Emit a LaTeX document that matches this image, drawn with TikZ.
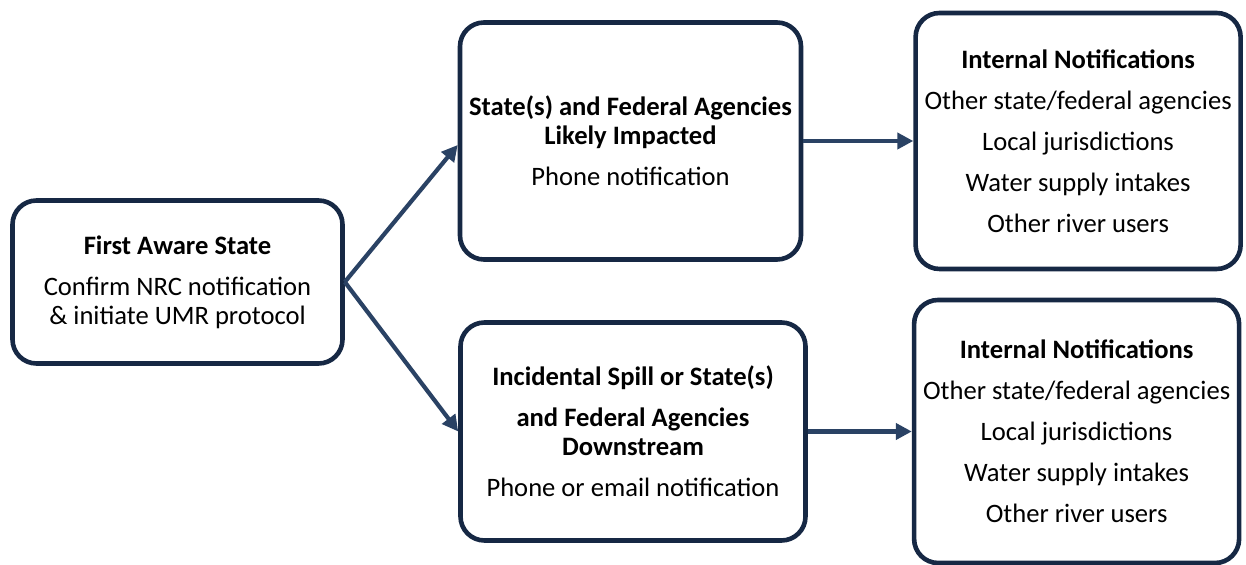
\documentclass[tikz,border=0pt]{standalone}
\usepackage{fontspec}
\setmainfont{Carlito}
\usetikzlibrary{arrows.meta,positioning}
\definecolor{boxnavy}{RGB}{22,40,68}
\definecolor{arrownavy}{RGB}{42,66,100}

\begin{document}
\begin{tikzpicture}[x=0.5pt,y=-0.5pt,>={Triangle[length=8pt,width=8pt]},
                node distance=55pt,
                step box/.style={draw=boxnavy,line width=2.3pt,rounded corners=12pt,
                  align=center,inner sep=3pt,font=\fontsize{13.3}{14.5}\selectfont},
                link/.style={->,draw=arrownavy,line width=2.1pt}]

  \useasboundingbox (0,0) rectangle (1246,565);

  \node[step box,minimum width=165pt,minimum height=81.5pt] (aware) at (177.5,282)
    {\textbf{First Aware State}\\[6pt]Confirm NRC notification\\\& initiate UMR protocol};
  \node[step box,minimum width=170.5pt,minimum height=118.5pt] (impacted) at (630.5,141)
    {\textbf{State(s) and Federal Agencies}\\\textbf{Likely Impacted}\\[6pt]Phone notification};
  \node[step box,minimum width=172.5pt,minimum height=109pt] (downstream) at (633,431.5)
    {\textbf{Incidental Spill or State(s)}\\[6pt]\textbf{and Federal Agencies}\\\textbf{Downstream}\\[6pt]Phone or email notification};
  \node[step box,minimum width=162.5pt,minimum height=128pt] (internal1) [right=of impacted]
    {\textbf{Internal Notifications}\\[6pt]Other state/federal agencies\\[6pt]Local jurisdictions\\[6pt]Water supply intakes\\[6pt]Other river users};
  \node[step box,minimum width=162.5pt,minimum height=131.5pt] (internal2) [right=52pt of downstream]
    {\textbf{Internal Notifications}\\[6pt]Other state/federal agencies\\[6pt]Local jurisdictions\\[6pt]Water supply intakes\\[6pt]Other river users};

  \draw[link] (aware.east) -- ([yshift=-2pt]impacted.west);
  \draw[link] (aware.east) -- (downstream.west);
  \draw[link] (impacted.east) -- (impacted.east -| internal1.west);
  \draw[link] (downstream.east) -- (downstream.east -| internal2.west);

\end{tikzpicture}
\end{document}
